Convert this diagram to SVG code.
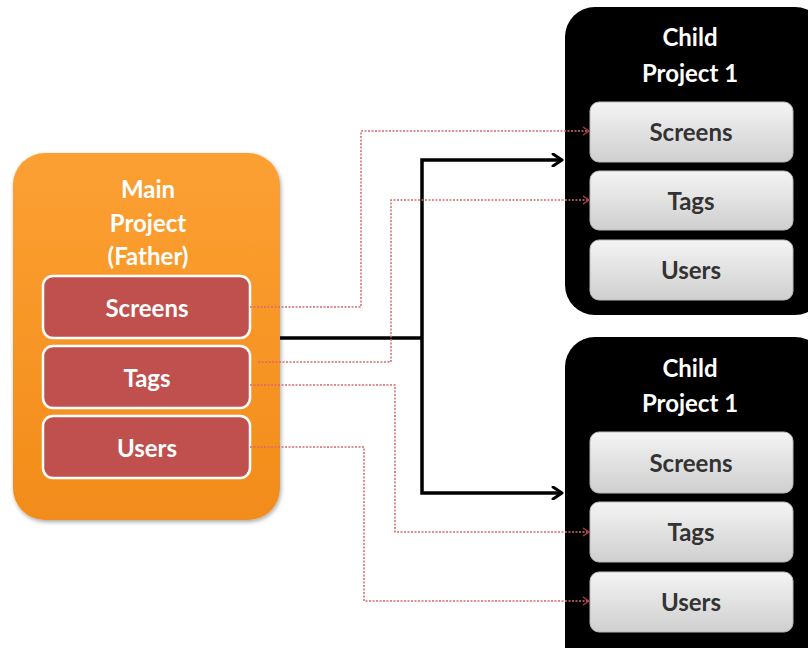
<svg xmlns="http://www.w3.org/2000/svg" width="808" height="648" viewBox="0 0 808 648">
<defs>
<linearGradient id="gOrange" x1="0" y1="0" x2="0" y2="1">
<stop offset="0" stop-color="#fca033"/>
<stop offset="1" stop-color="#f28c1a"/>
</linearGradient>
<linearGradient id="gGray" x1="0" y1="0" x2="0" y2="1">
<stop offset="0" stop-color="#f4f4f4"/>
<stop offset="1" stop-color="#cfcfcf"/>
</linearGradient>
<filter id="sh" x="-10%" y="-10%" width="120%" height="120%">
<feGaussianBlur in="SourceAlpha" stdDeviation="2"/>
<feOffset dx="1" dy="2" result="b"/>
<feComponentTransfer><feFuncA type="linear" slope="0.35"/></feComponentTransfer>
<feMerge><feMergeNode/><feMergeNode in="SourceGraphic"/></feMerge>
</filter>
<marker id="blk" markerWidth="14" markerHeight="14" refX="11" refY="7" orient="auto" markerUnits="userSpaceOnUse">
<path d="M2,1 L11,7 L2,13" fill="none" stroke="#000" stroke-width="3" stroke-linecap="round" stroke-linejoin="round"/>
</marker>
<marker id="red" markerWidth="10" markerHeight="10" refX="8" refY="5" orient="auto" markerUnits="userSpaceOnUse">
<path d="M2,1 L8,5 L2,9" fill="none" stroke="#a84040" stroke-width="1.4"/>
</marker>
</defs>
<style>
text{font-family:Lato,"Open Sans","Liberation Sans",sans-serif;font-weight:bold;text-anchor:middle;dominant-baseline:central}
.w{fill:#fff;font-size:24px}
.d{fill:#333;font-size:24px}
.redbox{fill:#c0504d;stroke:#fff;stroke-width:2.5}
.graybox{fill:url(#gGray);stroke:#bbb;stroke-width:1}
.blk{fill:none;stroke:#000;stroke-width:3.5;marker-end:url(#blk)}
.dot{fill:none;stroke:#d86a6a;stroke-width:1.5;stroke-dasharray:2 1.5;marker-end:url(#red)}
</style>
<rect width="808" height="648" fill="#fff"/>

<g id="main">
<rect x="13" y="153" width="267" height="367" rx="32" fill="url(#gOrange)" filter="url(#sh)"/>
<text class="w" x="148" y="188">Main</text>
<text class="w" x="148" y="222">Project</text>
<text class="w" x="148" y="255">(Father)</text>
</g>
<g id="main-screens"><rect class="redbox" x="43" y="276" width="207" height="62" rx="10"/><text class="w" x="147" y="307">Screens</text></g>
<g id="main-tags"><rect class="redbox" x="43" y="346" width="207" height="62" rx="10"/><text class="w" x="147" y="377">Tags</text></g>
<g id="main-users"><rect class="redbox" x="43" y="416" width="207" height="62" rx="10"/><text class="w" x="147" y="447">Users</text></g>

<g id="child1">
<rect x="565" y="7" width="260" height="308" rx="30" fill="#000"/>
<text class="w" x="690" y="36">Child</text>
<text class="w" x="690" y="72">Project 1</text>
</g>
<g id="child1-screens"><rect class="graybox" x="590" y="102" width="203" height="60" rx="9"/><text class="d" x="691" y="131">Screens</text></g>
<g id="child1-tags"><rect class="graybox" x="590" y="171" width="203" height="59" rx="9"/><text class="d" x="691" y="200">Tags</text></g>
<g id="child1-users"><rect class="graybox" x="590" y="240" width="203" height="60" rx="9"/><text class="d" x="691" y="269">Users</text></g>

<g id="child2">
<rect x="565" y="337" width="260" height="340" rx="30" fill="#000"/>
<text class="w" x="690" y="367">Child</text>
<text class="w" x="690" y="402">Project 1</text>
</g>
<g id="child2-screens"><rect class="graybox" x="590" y="432" width="203" height="61" rx="9"/><text class="d" x="691" y="462">Screens</text></g>
<g id="child2-tags"><rect class="graybox" x="590" y="502" width="203" height="60" rx="9"/><text class="d" x="691" y="531">Tags</text></g>
<g id="child2-users"><rect class="graybox" x="590" y="572" width="203" height="60" rx="9"/><text class="d" x="691" y="601">Users</text></g>

<g id="connectors">
<path d="M280,338 H422" fill="none" stroke="#000" stroke-width="3.5"/>
<path class="blk" d="M422,338 V160 H562"/>
<path class="blk" d="M422,338 V493 H562"/>
<path class="dot" d="M250,307 H361 V131 H589"/>
<path class="dot" d="M258,362 H391 V200 H589"/>
<path class="dot" d="M250,385 H395 V532 H589"/>
<path class="dot" d="M250,447 H364 V601 H589"/>
</g>
</svg>
